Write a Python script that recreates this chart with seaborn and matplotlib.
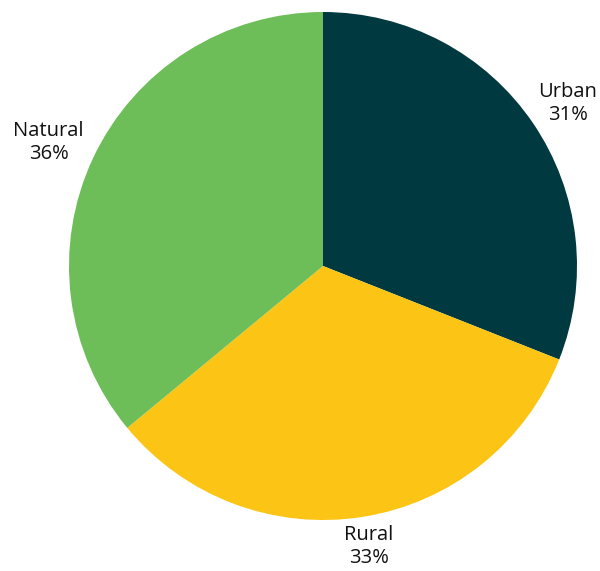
import numpy as np
import matplotlib
matplotlib.use("Agg")
import matplotlib.pyplot as plt
import seaborn as sns

categories = ["Urban", "Rural", "Natural"]
shares = [31, 33, 36]
colors = ["#003A40", "#FCC515", "#6DBE58"]

sns.set_theme(style="white")
plt.rcParams["font.family"] = ["Open Sans", "DejaVu Sans"]

W, H, DPI = 600, 571, 100
fig = plt.figure(figsize=(W / DPI, H / DPI), dpi=DPI)
ax = fig.add_axes([0, 0, 1, 1])

# pie centre and radius in pixels -> data units where radius == 1
cx, cy, R = 323, 266, 254

wedges, _ = ax.pie(shares, colors=sns.color_palette(colors), startangle=90,
                   counterclock=False, radius=1.0,
                   wedgeprops=dict(linewidth=0))
xmin, xmax = -cx / R, (W - cx) / R
ymin, ymax = -(H - cy) / R, cy / R
ax.set_xlim(xmin, xmax)
ax.set_ylim(ymin, ymax)
ax.set_aspect("auto")
ax.set_axis_off()

fig.canvas.draw()
renderer = fig.canvas.get_renderer()
margin = 3 / R
for w, name, val in zip(wedges, categories, shares):
    mid = np.deg2rad((w.theta1 + w.theta2) / 2)
    d = np.array([np.cos(mid), np.sin(mid)])
    t = ax.text(0, 0, f"{name}\n{val}%", ha="center", va="center",
                fontsize=14.5, color="#111111", linespacing=1.2)
    bb = t.get_window_extent(renderer)
    hw, hh = bb.width / 2 / R, bb.height / 2 / R
    pos = d * 1.055 + d * np.array([hw, hh])
    # keep each label block fully inside the canvas
    pos[0] = np.clip(pos[0], xmin + hw + margin, xmax - hw - margin)
    pos[1] = np.clip(pos[1], ymin + hh + margin, ymax - hh - margin)
    t.set_position(pos)

fig.savefig("out.png", dpi=DPI, facecolor="white")
